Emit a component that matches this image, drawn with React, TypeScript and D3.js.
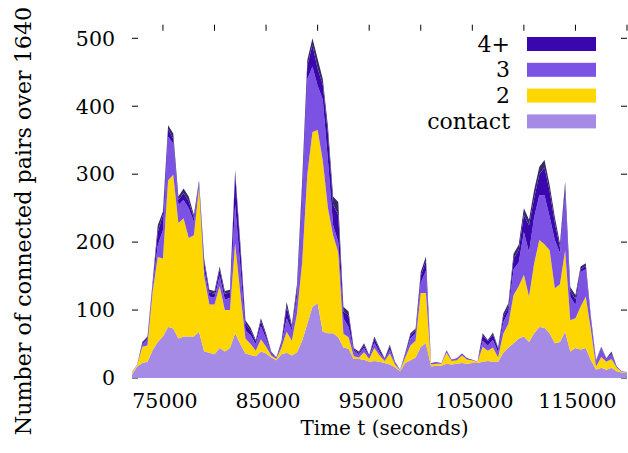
import React from 'react';
import * as d3 from 'd3';

const times = [
  72000, 72500, 73000, 73500, 74000, 74500, 75000, 75500, 76000, 76500,
  77000, 77500, 78000, 78500, 79000, 79500, 80000, 80500, 81000, 81500,
  82000, 82500, 83000, 83500, 84000, 84500, 85000, 85500, 86000, 86500,
  87000, 87500, 88000, 88500, 89000, 89500, 90000, 90500, 91000, 91500,
  92000, 92500, 93000, 93500, 94000, 94500, 95000, 95500, 96000, 96500,
  97000, 97500, 98000, 98500, 99000, 99500, 100000, 100500, 101000, 101500,
  102000, 102500, 103000, 103500, 104000, 104500, 105000, 105500, 106000, 106500,
  107000, 107500, 108000, 108500, 109000, 109500, 110000, 110500, 111000, 111500,
  112000, 112500, 113000, 113500, 114000, 114500, 115000, 115500, 116000, 116500,
  117000, 117500, 118000, 118500, 119000, 119500, 120000,
];

const contact = [
  5, 17, 22, 24, 41, 53, 61, 75, 73, 58,
  61, 61, 61, 68, 39, 37, 35, 44, 39, 44,
  66, 50, 36, 34, 32, 39, 36, 30, 26, 35,
  37, 33, 38, 55, 80, 105, 110, 68, 66, 66,
  60, 45, 43, 28, 28, 27, 24, 25, 24, 22,
  20, 16, 10, 22, 26, 30, 46, 51, 17, 18,
  18, 21, 20, 21, 22, 21, 22, 22, 24, 25,
  24, 24, 37, 45, 51, 58, 61, 53, 66, 75,
  74, 66, 51, 53, 68, 39, 44, 42, 44, 26,
  12, 15, 12, 15, 10, 8, 7,
];

const two = [
  3, 2, 24, 24, 86, 125, 115, 216, 226, 170,
  174, 145, 149, 212, 111, 71, 73, 91, 61, 56,
  132, 75, 22, 16, 8, 18, 10, 3, 2, 10,
  31, 22, 57, 115, 220, 257, 255, 252, 184, 144,
  125, 20, 17, 4, 2, 11, 4, 19, 9, 3,
  16, 4, 1, 8, 22, 25, 79, 74, 3, 3,
  3, 16, 5, 5, 11, 6, 4, 1, 22, 15,
  21, 6, 28, 35, 71, 77, 91, 67, 103, 128,
  123, 122, 81, 85, 120, 46, 44, 63, 76, 45,
  5, 16, 12, 13, 5, 1, 1,
];

const three = [
  1, 1, 3, 9, 10, 17, 42, 64, 46, 27,
  27, 44, 20, 6, 10, 12, 10, 15, 15, 18,
  57, 40, 12, 13, 10, 19, 12, 3, 1, 5,
  20, 15, 25, 90, 140, 96, 65, 90, 70, 15,
  15, 23, 15, 8, 5, 6, 3, 8, 5, 2,
  6, 2, 1, 4, 10, 11, 15, 33, 2, 1,
  1, 2, 1, 2, 2, 1, 0, 1, 9, 8,
  11, 8, 17, 17, 38, 35, 63, 65, 68, 66,
  72, 49, 71, 46, 82, 35, 19, 51, 40, 14,
  7, 13, 3, 7, 1, 1, 1,
];

const fourPlus = [
  0, 0, 2, 2, 3, 20, 22, 11, 7, 7,
  10, 10, 6, 3, 10, 6, 6, 10, 9, 8,
  45, 27, 10, 7, 4, 8, 5, 2, 1, 3,
  17, 4, 10, 20, 20, 32, 25, 22, 40, 30,
  40, 10, 17, 2, 2, 4, 2, 6, 4, 1,
  5, 1, 0, 2, 5, 4, 10, 14, 0, 1,
  0, 1, 1, 1, 1, 1, 1, 0, 8, 6,
  8, 5, 8, 8, 16, 18, 25, 40, 28, 31,
  41, 38, 25, 8, 12, 8, 9, 4, 5, 3,
  1, 1, 1, 2, 0, 0, 0,
];

// thin darkest band drawn on top of the stack (not in the key)
const topBand = [
  0, 0, 2, 2, 2, 10, 5, 6, 8, 5,
  7, 7, 4, 2, 5, 4, 4, 4, 4, 4,
  6, 8, 5, 4, 2, 4, 3, 1, 0, 2,
  7, 4, 8, 10, 8, 10, 15, 8, 10, 12,
  19, 7, 6, 2, 2, 3, 1, 3, 2, 1,
  2, 1, 0, 1, 3, 3, 6, 7, 0, 0,
  0, 1, 0, 0, 0, 0, 0, 0, 3, 2,
  3, 2, 5, 5, 7, 8, 10, 8, 12, 11,
  11, 9, 9, 6, 7, 6, 6, 4, 4, 2,
  1, 1, 1, 2, 1, 0, 0,
];

const yTicks = [0, 100, 200, 300, 400, 500];
const xLabelTicks = [75000, 85000, 95000, 105000, 115000];
const xMarkTicks = [75000, 80000, 85000, 90000, 95000, 100000, 105000, 110000, 115000, 120000];
const legendLabels = ['4+', '3', '2', 'contact'];
const legendKeys = ['fourPlus', 'three', 'two', 'contact'];

const keys = ['contact', 'two', 'three', 'fourPlus', 'topBand'];
const colors: Record<string, string> = {
  contact: '#a68be6',
  two: '#ffd700',
  three: '#7b52e3',
  fourPlus: '#3a07af',
  topBand: '#342a66',
};

const W = 628;
const H = 453;
const left = 132;
const right = 627;
const top = 24.7;
const bottom = 378;
const FONT = 'DejaVu Serif';

export default function App() {
  const rows = times.map((t, i) => ({
    t,
    contact: contact[i],
    two: two[i],
    three: three[i],
    fourPlus: fourPlus[i],
    topBand: topBand[i],
  }));

  const x = d3.scaleLinear().domain([72000, 120000]).range([left, right]);
  const y = d3.scaleLinear().domain([0, 520]).range([bottom, top]);

  const series = d3.stack<any>().keys(keys)(rows);

  const area = d3
    .area<any>()
    .x((d) => x(d.data.t))
    .y0((d) => y(d[0]))
    .y1((d) => y(d[1]))
    .curve(d3.curveLinear);

  return (
    <svg width={W} height={H} style={{ position: 'absolute', left: 0, top: 0, background: '#fff' }}>
      <rect x={0} y={0} width={W} height={H} fill="#fff" />
      {yTicks.map((v) => (
        <g key={'yt' + v}>
          <line x1={left} x2={left + 6} y1={y(v)} y2={y(v)} stroke="#000" strokeWidth={1} />
          <line x1={right - 6} x2={right} y1={y(v)} y2={y(v)} stroke="#000" strokeWidth={1} />
          <text x={115} y={y(v) + 7.3} textAnchor="end" fontSize={20.5} fill="#000" fontFamily={FONT}>
            {v}
          </text>
        </g>
      ))}
      {xMarkTicks.map((v) => (
        <line key={'xt' + v} x1={x(v)} x2={x(v)} y1={top} y2={top + 6} stroke="#000" strokeWidth={1} />
      ))}
      {xLabelTicks.map((v) => (
        <text key={'xl' + v} x={x(v) + 2} y={408} textAnchor="middle" fontSize={20.5} fill="#000" fontFamily={FONT}>
          {v}
        </text>
      ))}
      {series.map((s) => (
        <path key={s.key} d={area(s) || ''} fill={colors[s.key]} stroke="none" />
      ))}
      {legendLabels.map((lab, i) => {
        const cy = 44 + i * 25.8;
        return (
          <g key={'lg' + lab}>
            <text x={510} y={cy + 7.5} textAnchor="end" fontSize={22} fill="#000" fontFamily={FONT}>
              {lab}
            </text>
            <rect x={527} y={cy - 7} width={69} height={14} fill={colors[legendKeys[i]]} />
          </g>
        );
      })}
      <text x={(left + right) / 2 + 5} y={435} textAnchor="middle" fontSize={20} fill="#000" fontFamily={FONT}>
        Time t (seconds)
      </text>
      <text transform="translate(31, 221) rotate(-90)" textAnchor="middle" fontSize={22.2} fill="#000" fontFamily={FONT}>
        Number of connected pairs over 1640
      </text>
    </svg>
  );
}
